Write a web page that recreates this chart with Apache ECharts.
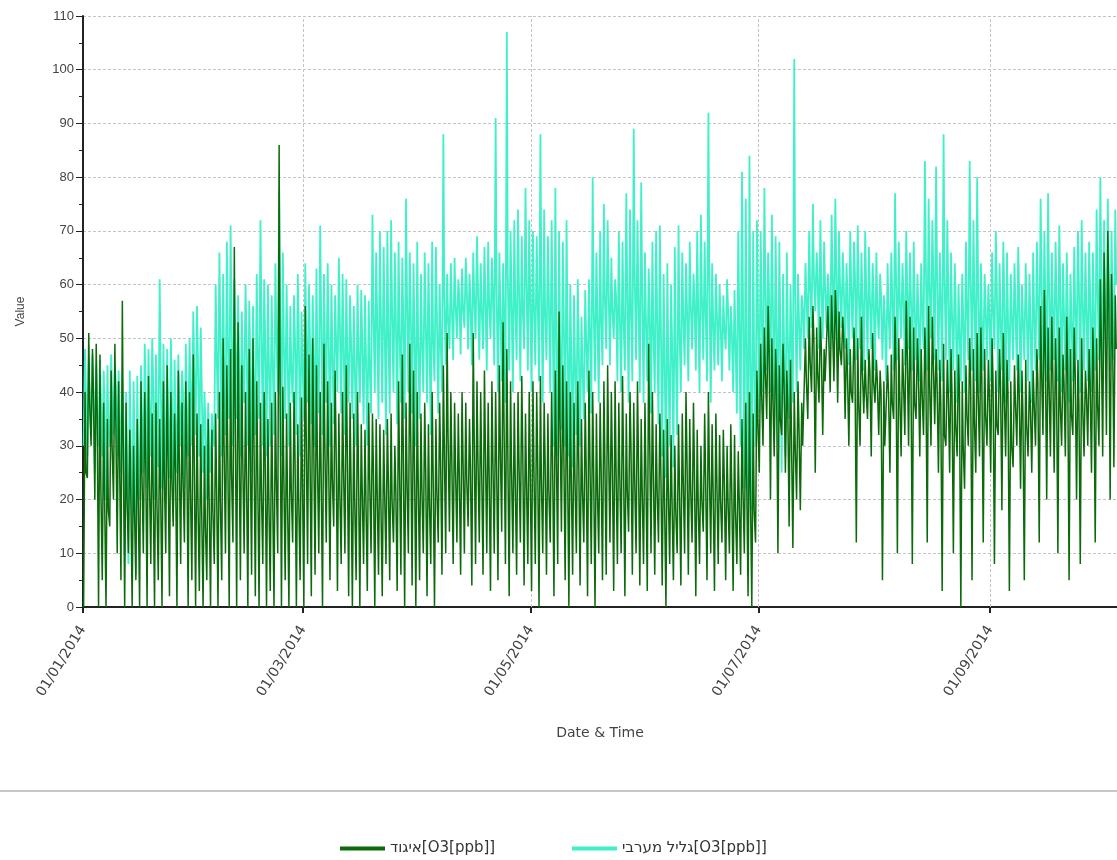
<!DOCTYPE html>
<html><head><meta charset="utf-8">
<script src="https://cdn.jsdelivr.net/npm/echarts@6/dist/echarts.min.js"></script>
<style>html,body{margin:0;padding:0;background:#fff}#c{width:1117px;height:860px}</style>
</head><body><div id="c"></div>
<script>
const seriesNames = ['איגוד[O3[ppb]]', 'גליל מערבי[O3[ppb]]'];
const tickDates = ['2014-01-01', '2014-03-01', '2014-05-01', '2014-07-01', '2014-09-01'];
const tickLabels = ['01/01/2014', '01/03/2014', '01/05/2014', '01/07/2014', '01/09/2014'];
const yTicks = [0, 10, 20, 30, 40, 50, 60, 70, 80, 90, 100, 110];
const startDate = '2014-01-01';
const endDate = '2014-10-05';

// Western Galilee: daily afternoon peak, night minimum and evening value (ppb), one value per day from 01/01/2014
const galilHigh = [
48,46,47,45,46,44,45,47,45,44, 42,40,44,42,43,45,49,48,50,47,
61,49,48,50,46,47,44,49,50,55, 56,52,40,38,36,60,66,62,68,71,
61,58,55,60,57,56,62,72,61,60, 58,64,78,66,60,56,58,62,55,64,
60,58,63,71,62,64,60,58,65,62, 61,58,56,60,59,58,57,73,66,70,
67,70,72,66,68,65,76,66,64,68, 62,66,64,68,67,60,88,62,64,65,
61,63,65,62,66,69,64,67,68,65, 91,66,64,107,70,72,74,69,78,72,
70,69,88,74,69,72,78,70,68,72, 60,58,61,54,59,61,80,66,70,75,
72,65,61,70,68,77,74,89,72,79, 66,63,68,70,71,62,64,60,67,71,
66,64,68,62,70,73,68,92,64,62, 60,58,61,56,59,70,81,76,84,70,
72,70,78,66,73,69,68,62,66,60, 102,62,58,64,70,75,66,72,68,62,
73,76,70,66,64,70,68,71,66,70, 67,64,66,62,58,64,66,77,68,64,
70,66,68,62,64,83,76,72,82,66, 88,72,66,64,60,62,68,83,72,80,
64,62,60,66,70,64,68,66,62,64, 67,60,64,62,66,68,76,70,77,66,
68,71,64,66,62,67,70,72,66,68, 66,74,80,72,76,70,74];
const galilLow = [
30,28,32,25,30,28,20,30,32,28, 25,10,8,15,6,20,25,22,28,20,
26,22,20,24,19,25,30,22,28,30, 32,28,25,20,25,30,35,28,32,35,
30,35,28,38,30,25,32,35,30,28, 30,32,40,28,35,30,38,32,28,35,
38,34,30,36,32,38,30,34,40,36, 32,38,35,30,38,34,30,36,40,35,
38,32,36,40,34,38,35,40,36,30, 35,40,38,32,42,36,40,45,48,46,
50,47,52,48,45,50,46,48,44,50, 45,40,42,38,44,40,46,42,48,44,
40,45,42,38,46,40,30,28,33,30, 28,26,32,30,35,40,36,42,38,45,
48,45,50,42,40,44,38,42,46,40, 38,42,36,40,34,28,24,30,26,32,
40,45,42,48,44,40,46,42,38,44, 45,42,48,44,40,36,30,22,12,18,
30,36,40,44,40,35,30,25,28,35, 38,40,44,48,50,52,55,48,50,52,
48,50,46,52,48,45,50,46,48,44, 46,48,44,50,46,42,48,44,46,50,
45,48,44,46,42,48,44,50,46,44, 42,46,40,44,38,42,40,46,44,42,
40,44,46,42,48,40,44,38,42,46, 44,40,46,42,38,44,46,40,42,44,
46,42,40,44,38,42,46,40,44,42, 40,44,46,42,48,44,46];
const galilEve = [
40,38,41,36,39,37,34,40,41,38, 35,28,30,32,27,36,40,38,42,36,
44,38,36,40,35,38,40,37,42,45, 46,42,34,30,32,48,52,46,50,54,
50,48,44,50,46,42,48,55,50,46, 47,52,58,50,48,45,50,52,46,52,
50,48,46,55,50,52,48,50,54,50, 48,50,46,48,50,47,45,56,54,55,
54,52,56,55,52,54,58,56,52,50, 50,54,52,50,55,50,58,54,56,57,
58,56,60,57,58,60,56,58,57,59, 60,56,55,62,58,57,60,56,62,58,
57,58,60,55,58,57,52,50,54,52, 48,46,50,45,50,52,56,55,54,58,
60,56,58,55,54,60,56,62,58,60, 54,56,52,55,54,48,46,50,48,52,
55,56,57,58,56,58,56,62,54,55, 54,52,56,52,50,55,58,54,50,46,
55,56,60,58,58,55,52,50,52,50, 58,54,56,58,60,62,62,60,60,58,
62,64,60,60,58,60,62,60,58,60, 58,58,56,58,54,55,58,62,58,58,
60,58,56,55,56,64,60,62,62,58, 62,60,55,56,52,54,56,62,58,60,
54,56,55,56,60,54,58,54,55,56, 58,54,56,54,55,58,62,58,60,56,
58,60,55,56,54,56,60,58,56,58, 55,60,62,58,62,58,60];
// Igud station: daily afternoon peak, night minimum and evening value (ppb)
const igudHigh = [
40,51,48,49,47,38,35,44,49,42, 57,38,33,30,35,42,40,43,36,38,
35,42,45,40,36,44,38,42,40,47, 36,34,30,35,33,36,40,50,45,48,
67,53,45,40,48,50,42,38,40,35, 38,40,86,41,36,38,40,34,39,56,
47,50,45,40,49,42,38,44,36,40, 45,38,36,40,34,33,38,36,35,34,
33,35,36,30,42,47,38,49,44,40, 36,38,34,40,35,38,45,51,40,38,
36,40,38,35,51,42,40,44,38,42, 40,45,53,48,42,38,40,43,36,40,
42,40,43,38,36,40,44,55,45,42, 40,38,42,35,38,44,40,36,38,42,
45,40,42,38,43,36,40,38,42,35, 38,49,40,34,36,33,35,32,30,34,
36,40,35,38,33,30,36,40,34,36, 32,33,30,34,32,29,35,38,40,36,
44,49,52,56,50,48,45,49,44,46, 40,42,38,50,54,56,52,54,48,56,
58,59,55,54,50,48,52,50,54,46, 48,51,46,44,42,45,47,54,50,48,
57,54,52,50,48,52,56,54,48,46, 49,46,48,44,47,42,45,50,48,51,
52,48,46,50,44,48,51,46,42,45, 47,44,46,42,44,48,56,59,52,54,
50,52,47,54,48,52,46,50,44,48, 52,50,61,66,70,62,58];
const igudLow = [
0,24,30,20,0,5,0,15,20,10, 5,0,10,0,5,0,10,0,8,0,
5,0,10,2,15,0,8,12,0,5, 0,3,0,5,0,8,0,5,10,0,
12,0,5,10,0,6,2,0,8,0, 3,0,10,0,5,0,12,0,5,0,
8,2,6,10,0,12,5,15,3,8, 10,2,0,5,0,8,3,10,0,6,
2,8,5,12,3,6,0,10,4,0, 5,10,2,8,0,12,6,10,14,8,
12,6,10,15,4,8,12,6,10,3, 10,5,14,8,2,10,6,12,4,8,
3,8,0,10,6,12,2,8,14,5, 0,6,10,4,12,2,8,0,10,5,
6,12,3,8,10,2,14,6,10,4, 8,3,10,6,12,4,0,8,5,10,
4,10,6,12,2,8,14,5,10,3, 8,12,5,10,3,8,6,10,2,0,
12,25,30,35,20,28,10,32,25,15, 11,20,18,30,35,40,25,38,32,42,
40,42,38,45,35,30,38,12,30,36, 35,28,38,32,5,30,25,35,10,28,
32,30,8,35,28,32,12,30,34,25, 3,30,25,10,28,0,22,30,5,25,
28,12,30,25,8,32,18,28,3,26, 30,22,5,28,25,30,12,32,20,28,
25,10,30,28,5,32,20,8,28,30, 25,12,30,28,32,20,26];
const igudEve = [
25,38,40,36,22,20,18,30,35,28, 30,20,22,18,20,25,28,24,22,20,
22,25,28,24,26,28,24,30,22,28, 20,18,15,20,18,22,20,30,28,25,
35,32,28,25,30,32,26,22,28,20, 22,24,40,25,20,22,28,20,24,32,
30,32,28,25,30,28,24,30,22,26, 30,24,20,26,22,20,24,26,22,20,
22,24,20,22,26,30,24,32,28,24, 22,26,20,25,22,28,30,32,28,26,
25,28,24,26,32,28,26,30,25,28, 27,30,34,30,26,24,27,30,24,26,
26,28,24,27,22,28,30,35,30,28, 25,24,28,22,26,28,26,22,26,28,
30,28,26,25,28,22,30,24,28,22, 25,32,26,22,26,20,22,20,18,22,
24,28,22,26,20,20,24,26,22,24, 20,24,20,22,18,20,22,24,22,18,
35,40,44,48,40,42,35,42,38,32, 30,34,30,42,46,50,44,48,42,50,
52,54,48,50,44,40,46,38,44,40, 44,42,42,40,30,40,38,46,40,42,
48,44,38,44,40,44,42,46,42,38, 32,40,40,34,40,30,36,42,35,40,
42,36,40,42,34,42,40,40,30,38, 40,36,34,38,38,42,44,48,42,44,
42,38,42,44,36,44,38,38,40,42, 44,38,50,55,58,52,48];

// positions along the x axis are measured in days since startDate
function dayOf(s){ const p = s.split('-'); return Math.round((Date.UTC(+p[0], +p[1]-1, +p[2]) - Date.UTC(2014,0,1)) / 86400000); }
function build(high, low, eve){
  const out = [];
  for (let d = 0; d < high.length; d++){
    out.push([d + 4/24, low[d]]);
    out.push([d + 13/24, high[d]]);
    out.push([d + 19/24, eve[d]]);
  }
  return out;
}
const tickDays = tickDates.map(dayOf);
const labelMap = {}; tickDays.forEach((t,i)=>{ labelMap[t] = tickLabels[i]; });

const chart = echarts.init(document.getElementById('c'), null, {renderer:'canvas'});
const font = 'Liberation Sans';
const wide = 'DejaVu Sans';
const gridStyle = { color: '#c4c4c4', type: [3,2], width: 1 };
chart.setOption({
  animation: false,
  backgroundColor: '#ffffff',
  grid: { left: 83, right: 0, top: 16, bottom: 253, containLabel: false },
  xAxis: {
    type: 'value', min: dayOf(startDate), max: dayOf(endDate),
    name: 'Date & Time', nameLocation: 'middle', nameGap: 119,
    nameTextStyle: { color: '#444', fontSize: 14, fontFamily: wide },
    axisLine: { show: true, onZero: false, lineStyle: { color: '#222', width: 2 } },
    axisTick: { show: true, customValues: tickDays, length: 6, lineStyle: { color: '#222', width: 2 } },
    axisLabel: { customValues: tickDays, rotate: 58, margin: 20, color: '#444', fontSize: 14, fontFamily: wide,
      formatter: v => labelMap[v] || '' },
    splitLine: { show: false }
  },
  yAxis: {
    type: 'value', min: yTicks[0], max: yTicks[yTicks.length-1], interval: 10,
    name: 'Value', nameLocation: 'middle', nameGap: 56, nameRotate: 90,
    nameTextStyle: { color: '#444', fontSize: 12, fontFamily: font },
    axisLine: { show: true, lineStyle: { color: '#222', width: 2 } },
    axisTick: { show: true, length: 7, lineStyle: { color: '#222', width: 1 } },
    minorTick: { show: true, splitNumber: 2, length: 4, lineStyle: { color: '#222' } },
    axisLabel: { color: '#444', fontSize: 13, fontFamily: font, margin: 9 },
    splitLine: { show: true, lineStyle: gridStyle }
  },
  legend: [
    { data: [seriesNames[0]], left: 335, top: 836, itemWidth: 45, itemHeight: 4, itemGap: 8,
      icon: 'rect', textStyle: { color: '#333', fontSize: 15, fontFamily: wide } },
    { data: [seriesNames[1]], left: 567, top: 836, itemWidth: 45, itemHeight: 4, itemGap: 8,
      icon: 'rect', textStyle: { color: '#333', fontSize: 15, fontFamily: wide } }
  ],
  graphic: [{ type: 'line', shape: { x1: 0, y1: 791, x2: 1117, y2: 791 }, style: { stroke: '#c8c8c8', lineWidth: 2 } }],
  series: [
    { name: seriesNames[1], type: 'line', data: build(galilHigh, galilLow, galilEve), showSymbol: false, symbol: 'none',
      color: '#3ff0c8', lineStyle: { width: 1.8, color: '#3ff0c8' }, z: 2,
      markLine: { silent: true, symbol: 'none', label: { show: false }, lineStyle: gridStyle, z: 1,
        data: tickDays.slice(1).map(d => ({ xAxis: d })) } },
    { name: seriesNames[0], type: 'line', data: build(igudHigh, igudLow, igudEve), showSymbol: false, symbol: 'none',
      color: '#0b6b0b', lineStyle: { width: 1.5, color: '#0b6b0b' }, z: 3 }
  ]
});
</script></body></html>
